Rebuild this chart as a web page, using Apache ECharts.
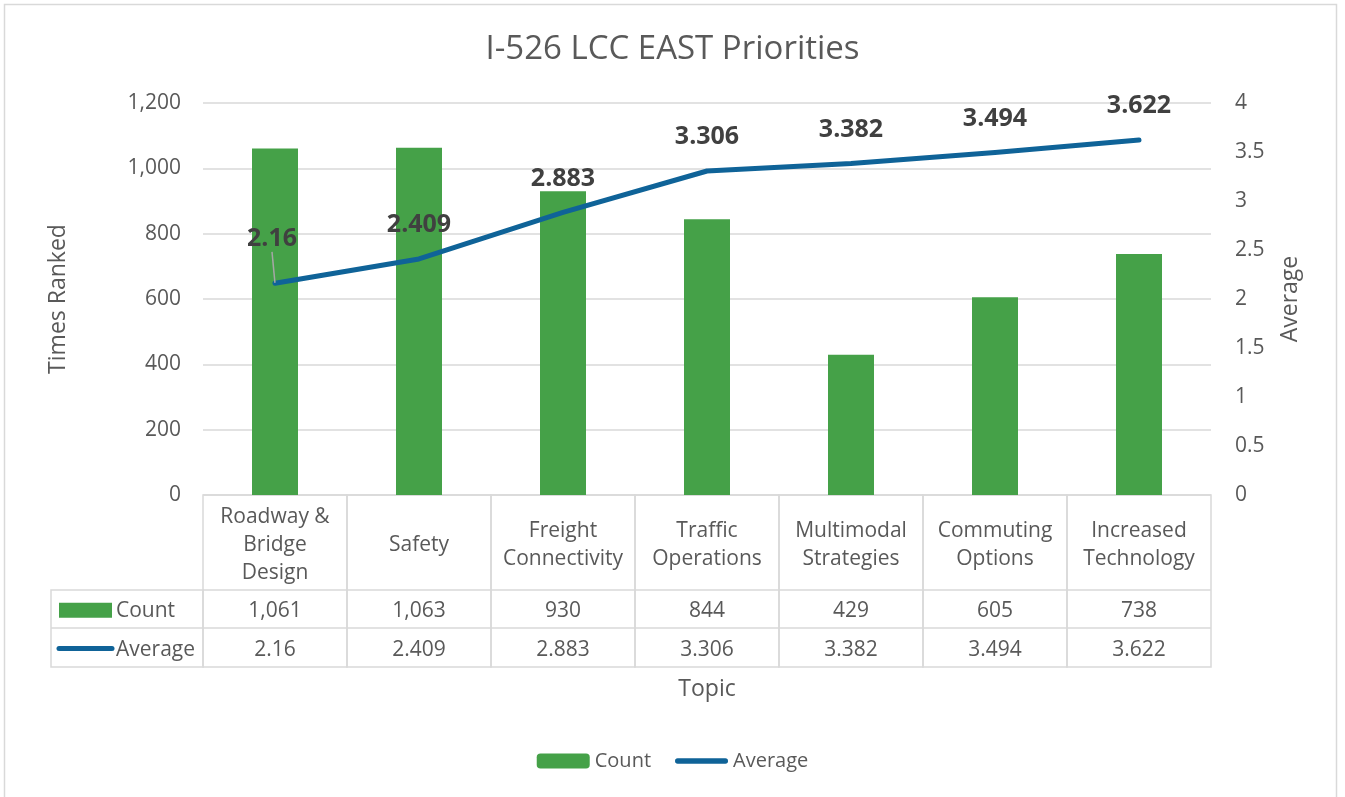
<!DOCTYPE html>
<html>
<head>
<meta charset="utf-8">
<title>I-526 LCC EAST Priorities</title>
<script src="https://cdn.jsdelivr.net/npm/echarts@6/dist/echarts.min.js"></script>
<style>
  html, body { margin: 0; padding: 0; background: #ffffff; }
  #chart { width: 1345px; height: 797px; }
</style>
</head>
<body>
<div id="chart"></div>
<script>
// Topics with the same line breaks used in the data table header
const categories = [
  'Roadway &\nBridge\nDesign',
  'Safety',
  'Freight\nConnectivity',
  'Traffic\nOperations',
  'Multimodal\nStrategies',
  'Commuting\nOptions',
  'Increased\nTechnology'
];
const counts = [1061, 1063, 930, 844, 429, 605, 738];
const averages = [2.16, 2.409, 2.883, 3.306, 3.382, 3.494, 3.622];
const countTicks = { min: 0, max: 1200, interval: 200 };
const averageTicks = { min: 0, max: 4, interval: 0.5 };

const FONT = 'Open Sans';
const TEXT = '#595959';
const GRID_LINE = '#D9D9D9';
const BAR_COLOR = '#45A148';
const LINE_COLOR = '#0F6398';

const fmtCount = v => Number(v).toLocaleString('en-US');

// Data table drawn under the plot, one column per category
const TABLE = { headH: 95, rowH: 38, row2H: 39, keyColW: 152, textDy: 2.5 };

function renderTableColumn(params, api) {
  const i = api.value(0);
  const zero = api.coord([i, 0]);
  const w = api.size([1, 0])[0];
  const x0 = zero[0] - w / 2;
  const y0 = zero[1];
  const y1 = y0 + TABLE.headH;
  const y2 = y1 + TABLE.rowH;
  const y3 = y2 + TABLE.row2H;
  const dy = TABLE.textDy;
  const font = '21px "' + FONT + '"';
  const border = { fill: 'none', stroke: GRID_LINE, lineWidth: 1.5 };
  const rule = (xa, xb, y) => ({ type: 'line', shape: { x1: xa, y1: y, x2: xb, y2: y }, style: { stroke: GRID_LINE, lineWidth: 1.5 } });
  const txt = (s, cx, cy) => ({
    type: 'text',
    style: {
      text: s, x: cx, y: cy + dy, align: 'center', verticalAlign: 'middle',
      fill: TEXT, font: font, lineHeight: 28
    }
  });
  const children = [
    { type: 'rect', shape: { x: x0, y: y0, width: w, height: y3 - y0 }, style: border },
    rule(x0, x0 + w, y1),
    rule(x0, x0 + w, y2),
    txt(categories[i], zero[0], (y0 + y1) / 2),
    txt(fmtCount(counts[i]), zero[0], (y1 + y2) / 2),
    txt(String(averages[i]), zero[0], (y2 + y3) / 2)
  ];
  if (i === 0) {
    // Row headers with their legend keys
    const kx = x0 - TABLE.keyColW;
    children.push(
      { type: 'rect', shape: { x: kx, y: y1, width: TABLE.keyColW, height: y3 - y1 }, style: border },
      rule(kx, x0, y2),
      { type: 'rect', shape: { x: kx + 8, y: (y1 + y2) / 2 - 7.5 + dy / 2, width: 53, height: 15 }, style: { fill: BAR_COLOR } },
      { type: 'text', style: { text: 'Count', x: kx + 65, y: (y1 + y2) / 2 + dy, verticalAlign: 'middle', fill: TEXT, font: font } },
      { type: 'line', shape: { x1: kx + 8, y1: (y2 + y3) / 2 + 1, x2: kx + 61, y2: (y2 + y3) / 2 + 1 }, style: { stroke: LINE_COLOR, lineWidth: 5, lineCap: 'round' } },
      { type: 'text', style: { text: 'Average', x: kx + 65, y: (y2 + y3) / 2 + dy, verticalAlign: 'middle', fill: TEXT, font: font } }
    );
  }
  return { type: 'group', children: children };
}

const chart = echarts.init(document.getElementById('chart'), null, { renderer: 'canvas' });

chart.setOption({
  backgroundColor: '#ffffff',
  animation: false,
  textStyle: { fontFamily: FONT },
  title: {
    text: 'I-526 LCC EAST Priorities',
    left: 'center',
    top: 28,
    textStyle: { fontFamily: FONT, fontSize: 33, fontWeight: 'normal', color: TEXT }
  },
  legend: {
    data: [
      { name: 'Count' },
      { name: 'Average', icon: 'path://M5,0 L95,0 A5,5 0 0 1 95,10 L5,10 A5,5 0 0 1 5,0 Z' }
    ],
    bottom: 21,
    left: 'center',
    itemWidth: 53,
    itemHeight: 15,
    itemGap: 24,
    textStyle: { fontFamily: FONT, fontSize: 20, color: TEXT }
  },
  grid: { left: 203, right: 134, top: 103, bottom: 302 },
  xAxis: {
    type: 'category',
    data: categories,
    name: 'Topic',
    nameLocation: 'middle',
    nameGap: 183,
    nameTextStyle: { fontFamily: FONT, fontSize: 23, color: TEXT },
    axisLine: { show: false },
    axisTick: { show: false },
    axisLabel: { show: false }
  },
  yAxis: [
    {
      type: 'value',
      min: countTicks.min, max: countTicks.max, interval: countTicks.interval,
      name: 'Times Ranked',
      nameLocation: 'middle',
      nameRotate: 90,
      nameGap: 133,
      nameTextStyle: { fontFamily: FONT, fontSize: 23, color: TEXT },
      axisLine: { show: false },
      axisTick: { show: false },
      axisLabel: { formatter: fmtCount, fontFamily: FONT, fontSize: 21, color: TEXT, margin: 22 },
      splitLine: { lineStyle: { color: GRID_LINE, width: 1.5 } }
    },
    {
      type: 'value',
      position: 'right',
      min: averageTicks.min, max: averageTicks.max, interval: averageTicks.interval,
      name: 'Average',
      nameLocation: 'middle',
      nameRotate: 90,
      nameGap: 68,
      nameTextStyle: { fontFamily: FONT, fontSize: 23, color: TEXT },
      axisLine: { show: false },
      axisTick: { show: false },
      axisLabel: { fontFamily: FONT, fontSize: 21, color: TEXT, margin: 24 },
      splitLine: { show: false }
    }
  ],
  series: [
    {
      name: 'Count',
      type: 'bar',
      yAxisIndex: 0,
      data: counts,
      barWidth: 46,
      itemStyle: { color: BAR_COLOR }
    },
    {
      name: 'Average',
      type: 'line',
      yAxisIndex: 1,
      data: averages.map((v, i) => i === 0
        ? { value: v, labelLine: { show: true, lineStyle: { color: '#A6A6A6', width: 1.5 } } }
        : v),
      showSymbol: true,
      symbol: 'circle',
      symbolSize: 1,
      lineStyle: { color: LINE_COLOR, width: 5, cap: 'round', join: 'round' },
      itemStyle: { color: LINE_COLOR },
      label: {
        show: true,
        position: 'top',
        distance: 21,
        fontFamily: FONT,
        fontSize: 25,
        fontWeight: 'bold',
        color: '#404040'
      },
      labelLayout: params => params.dataIndex === 0 ? { dx: -3, dy: -10 } : {},
      z: 3
    },
    {
      name: 'table',
      type: 'custom',
      yAxisIndex: 0,
      clip: false,
      silent: true,
      data: categories.map((c, i) => [i, 0]),
      encode: { x: 0, y: 1 },
      renderItem: renderTableColumn,
      z: 1
    }
  ],
  graphic: [
    {
      type: 'rect',
      silent: true,
      shape: { x: 4.5, y: 4.5, width: 1332, height: 820 },
      style: { fill: 'none', stroke: GRID_LINE, lineWidth: 1.5 }
    }
  ]
});
</script>
</body>
</html>
